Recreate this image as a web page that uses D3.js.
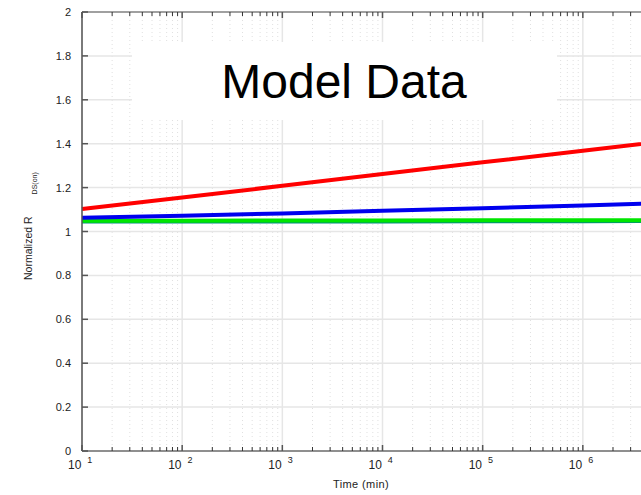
<!DOCTYPE html>
<html>
<head>
<meta charset="utf-8">
<script src="https://cdn.jsdelivr.net/npm/d3@7"></script>
<style>
  body { margin: 0; background: #fff; }
  svg { display: block; font-family: Arial, "Liberation Sans", sans-serif; }
</style>
</head>
<body>
<svg id="chart" width="641" height="495"></svg>
<script>
// time points (min) and normalized R_DS(on) for each model curve
var times = [10, 1e2, 1e3, 1e4, 1e5, 1e6, 1e7]
var redVals = [1.102, 1.155, 1.208, 1.262, 1.315, 1.368, 1.421]
var blueVals = [1.063, 1.072, 1.082, 1.094, 1.106, 1.119, 1.132]
var tealVals = [1.045, 1.045, 1.046, 1.046, 1.047, 1.047, 1.048]
var greenVals = [1.049, 1.049, 1.050, 1.050, 1.051, 1.051, 1.052]
var yTicks = [0, 0.2, 0.4, 0.6, 0.8, 1, 1.2, 1.4, 1.6, 1.8, 2]
var xExponents = [1, 2, 3, 4, 5, 6]

// (window.top is reserved, so use plot* names)
var plotLeft = 82, plotTop = 12, plotBottom = 451, plotRight = 683
var svg = d3.select("#chart")

var xScale = d3.scaleLog().domain([10, 1e7]).range([plotLeft, plotRight])
var yScale = d3.scaleLinear().domain([0, 2]).range([plotBottom, plotTop])

// minor grid (dotted) at 2..9 x each decade
var minor = []
xExponents.forEach(function(e) {
   for (var k = 2; k <= 9; k++) minor.push(k * Math.pow(10, e))
})
var majors = xExponents.map(e => Math.pow(10, e)).concat([1e7])

svg.append("g").selectAll("line")
   .data(minor)
   .join("line")
   .attr("x1", d => xScale(d)).attr("x2", d => xScale(d))
   .attr("y1", plotTop).attr("y2", plotBottom)
   .style("stroke", "#e0e0e0")
   .style("stroke-width", 1)
   .style("stroke-dasharray", "1,3")

// major grid
svg.append("g").selectAll("line")
   .data(majors)
   .join("line")
   .attr("x1", d => xScale(d)).attr("x2", d => xScale(d))
   .attr("y1", plotTop).attr("y2", plotBottom)
   .style("stroke", "#e6e6e6")
   .style("stroke-width", 1.5)
svg.append("g").selectAll("line")
   .data(yTicks)
   .join("line")
   .attr("x1", plotLeft).attr("x2", plotRight)
   .attr("y1", d => yScale(d)).attr("y2", d => yScale(d))
   .style("stroke", "#e6e6e6")
   .style("stroke-width", 1.5)

// title box covering the grid
svg.append("rect")
   .attr("x", 132).attr("y", 42).attr("width", 425).attr("height", 78)
   .attr("fill", "#fff")
svg.append("text")
   .attr("x", 344).attr("y", 98)
   .attr("text-anchor", "middle")
   .style("font-size", "48px")
   .text("Model Data")

// curves
var line = d3.line()
   .x((d, i) => xScale(times[i]))
   .y(d => yScale(d))
var series = [
   { vals: tealVals, color: "#008a80" },
   { vals: greenVals, color: "#00e600" },
   { vals: blueVals, color: "#0000ee" },
   { vals: redVals, color: "#ff0000" }
]
svg.append("g").selectAll("path")
   .data(series)
   .join("path")
   .attr("d", d => line(d.vals))
   .attr("fill", "none")
   .style("stroke", d => d.color)
   .style("stroke-width", 4)

// axes frame
svg.append("line")
   .attr("x1", plotLeft).attr("x2", plotLeft).attr("y1", plotTop).attr("y2", plotBottom)
   .style("stroke", "#555").style("stroke-width", 1.5)
svg.append("line")
   .attr("x1", plotLeft).attr("x2", plotRight).attr("y1", plotBottom).attr("y2", plotBottom)
   .style("stroke", "#333").style("stroke-width", 1.2)
svg.append("line")
   .attr("x1", plotLeft).attr("x2", plotRight).attr("y1", plotTop).attr("y2", plotTop)
   .style("stroke", "#555").style("stroke-width", 1.2)

// x ticks (inside, bottom and top)
;[plotBottom, plotTop].forEach(function(yy) {
   var dir = yy === plotBottom ? -1 : 1
   svg.append("g").selectAll("line")
      .data(minor)
      .join("line")
      .attr("x1", d => xScale(d)).attr("x2", d => xScale(d))
      .attr("y1", yy).attr("y2", yy + dir * 4)
      .style("stroke", "#333").style("stroke-width", 1)
   svg.append("g").selectAll("line")
      .data(majors)
      .join("line")
      .attr("x1", d => xScale(d)).attr("x2", d => xScale(d))
      .attr("y1", yy).attr("y2", yy + dir * 6)
      .style("stroke", "#555").style("stroke-width", 1.5)
})

// y ticks
svg.append("g").selectAll("line")
   .data(yTicks)
   .join("line")
   .attr("x1", plotLeft).attr("x2", plotLeft + 6)
   .attr("y1", d => yScale(d)).attr("y2", d => yScale(d))
   .style("stroke", "#555").style("stroke-width", 1.5)
svg.append("g").selectAll("text")
   .data(yTicks)
   .join("text")
   .attr("x", 71)
   .attr("y", d => yScale(d) + 4)
   .attr("text-anchor", "end")
   .style("font-size", "11px")
   .style("fill", "#222")
   .text(d => d)

// x tick labels: 10 with raised exponent
var xl = svg.append("g").selectAll("text")
   .data(xExponents)
   .join("text")
   .attr("x", d => xScale(Math.pow(10, d)) - 14)
   .attr("y", 469)
   .style("fill", "#222")
xl.append("tspan").style("font-size", "12px").text("10")
xl.append("tspan").attr("dx", 6).attr("dy", -6).style("font-size", "9px").text(d => d)

// axis labels
svg.append("text")
   .attr("x", 361).attr("y", 488)
   .attr("text-anchor", "middle")
   .style("font-size", "11px")
   .style("letter-spacing", "0.4px")
   .style("fill", "#222")
   .text("Time (min)")

var yl = svg.append("text")
   .attr("transform", "translate(32,280) rotate(-90)")
   .style("fill", "#222")
yl.append("tspan").style("font-size", "10.5px").text("Normalized R")
yl.append("tspan").attr("dx", 22).attr("dy", 5).style("font-size", "7px").text("DS(on)")
</script>
</body>
</html>
